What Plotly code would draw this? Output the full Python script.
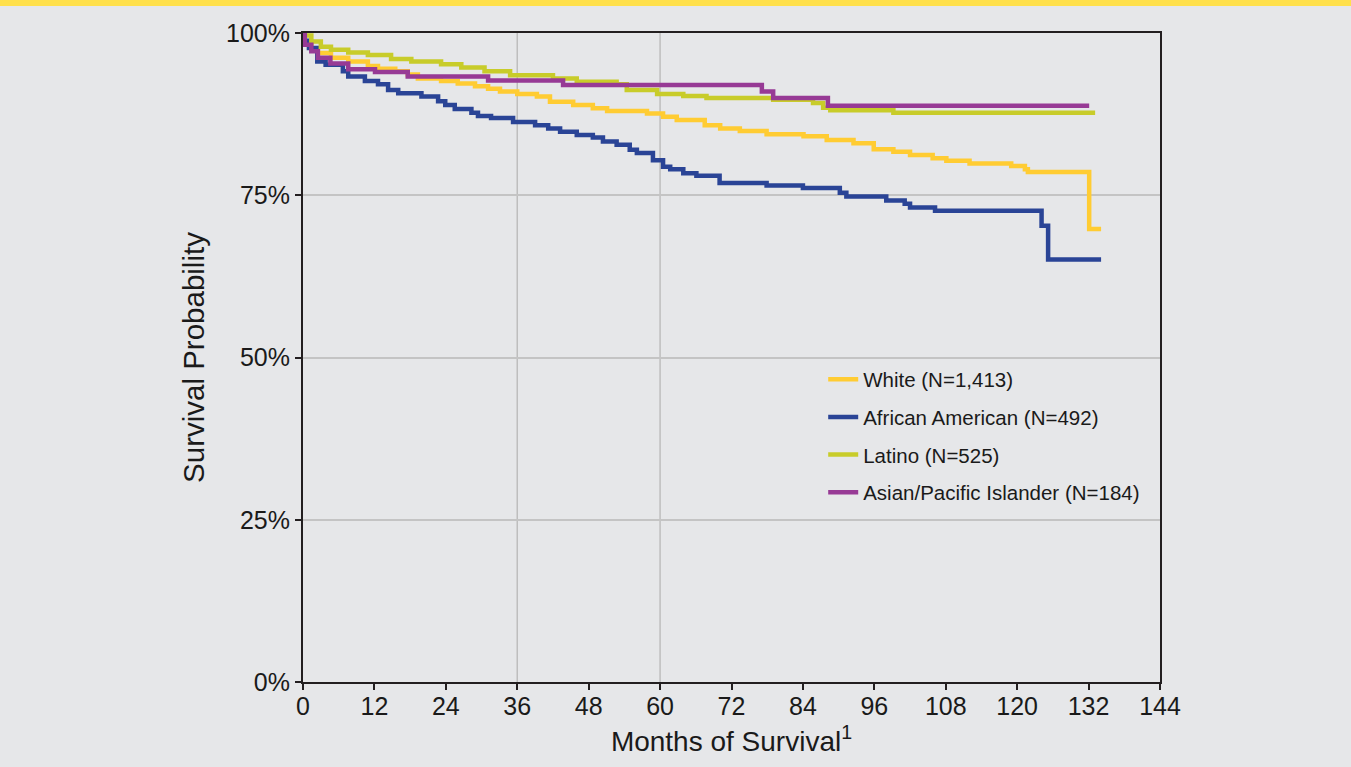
import plotly.graph_objects as go

# Kaplan-Meier step data: month at which each survival level starts, and the level (%)
white_months = [0, 0.3, 1.4, 2.5, 4.7, 7.6, 10.9, 12.6, 15.5, 17.6, 19.3, 23.2, 26.0, 28.9,
                31.1, 33.1, 36.0, 39.3, 41.5, 45.4, 48.7, 51.1, 57.8, 60.5, 62.8, 67.5,
                70.1, 73.4, 77.9, 84.1, 88.0, 92.5, 95.9, 99.2, 102.0, 105.8, 108.1, 112.0,
                119.0, 121.3, 121.8, 132.1, 134.1]
white_surv = [100, 98.6, 97.5, 96.9, 96.2, 95.6, 94.9, 94.5, 94.1, 93.6, 93.0, 92.6, 92.2, 91.8,
              91.4, 91.0, 90.6, 90.2, 89.4, 88.9, 88.4, 88.0, 87.6, 87.1, 86.6, 85.8,
              85.3, 84.9, 84.4, 84.1, 83.5, 83.0, 82.1, 81.7, 81.2, 80.7, 80.3, 79.9,
              79.5, 79.0, 78.6, 69.8, 69.8]

black_months = [0, 0.3, 1.0, 2.4, 3.8, 6.7, 7.6, 10.4, 12.6, 14.3, 16.0, 19.9, 22.7, 23.9,
                25.5, 28.3, 29.4, 31.6, 35.3, 39.0, 41.2, 43.2, 46.0, 48.7, 50.4, 52.7,
                54.9, 56.1, 58.8, 60.5, 61.7, 63.9, 66.1, 70.0, 77.9, 84.0, 90.2, 91.3,
                98.0, 101.1, 102.0, 106.2, 124.1, 125.2, 134.1]
black_surv = [100, 98.8, 97.7, 95.6, 95.1, 94.1, 93.3, 92.6, 92.1, 91.2, 90.7, 90.2, 89.5, 88.9,
              88.3, 87.7, 87.2, 86.9, 86.3, 85.8, 85.3, 84.8, 84.3, 83.9, 83.3, 82.8,
              82.0, 81.5, 80.4, 79.4, 79.0, 78.4, 78.0, 76.9, 76.5, 76.1, 75.4, 74.8,
              74.2, 73.7, 73.1, 72.6, 70.3, 65.1, 65.1]

latino_months = [0, 0.3, 1.4, 3.0, 4.7, 7.6, 10.9, 14.8, 18.2, 23.2, 26.6, 30.5, 34.8, 42.0,
                 46.0, 52.7, 54.4, 59.5, 63.9, 67.8, 79.0, 85.7, 87.4, 88.6, 99.2, 133.1]
latino_surv = [100, 99.6, 98.7, 97.9, 97.4, 97.0, 96.6, 96.0, 95.6, 95.2, 94.7, 94.1, 93.5, 93.0,
               92.5, 92.1, 91.2, 90.6, 90.3, 90.0, 89.7, 89.2, 88.5, 88.1, 87.7, 87.7]

asian_months = [0, 0.3, 1.4, 2.5, 4.6, 7.6, 12.1, 17.6, 31.1, 43.7, 77.1, 79.0, 88.2, 132.1]
asian_surv = [100, 98.2, 97.2, 96.2, 95.3, 94.4, 94.0, 93.3, 92.7, 92.0, 91.0, 90.0, 88.8, 88.8]

series_names = ["White (N=1,413)", "African American (N=492)", "Latino (N=525)",
                "Asian/Pacific Islander (N=184)"]
series_colors = ["#FFCC33", "#2A4496", "#C8CC2A", "#973A95"]
series_months = [white_months, black_months, latino_months, asian_months]
series_surv = [white_surv, black_surv, latino_surv, asian_surv]

x_ticks = list(range(0, 145, 12))
y_ticks = [0, 25, 50, 75, 100]
y_tick_text = ["0%", "25%", "50%", "75%", "100%"]
ref_months = [36, 60]

FONT = "Liberation Sans, Arial, Helvetica, sans-serif"
BG = "#E6E7E9"
INK = "#1A1A1A"

fig = go.Figure()
for name, color, months, surv in zip(series_names, series_colors, series_months, series_surv):
    fig.add_trace(go.Scatter(
        x=months, y=surv, mode="lines", name=name, legendgroup=name,
        line=dict(color=color, width=4.5, shape="hv"),
    ))

shapes = [
    dict(type="line", xref="x", yref="paper", x0=m, x1=m, y0=0, y1=1,
         line=dict(color="#BEBEBE", width=1.5), layer="below")
    for m in ref_months
]
# yellow banner strip along the top edge of the page
shapes.append(dict(type="rect", xref="paper", yref="paper", x0=-0.5, x1=1.5,
                   y0=(682 - 6) / 649, y1=1.2, fillcolor="#FFE04B", line=dict(width=0),
                   layer="above"))

fig.update_layout(
    width=1351, height=767, autosize=False,
    margin=dict(l=303, r=191, t=33, b=85),
    paper_bgcolor=BG, plot_bgcolor=BG,
    font=dict(family=FONT, color=INK),
    shapes=shapes,
    showlegend=True,
    legend=dict(
        x=0.607, y=0.497, xanchor="left", yanchor="top",
        bgcolor="rgba(0,0,0,0)", borderwidth=0,
        font=dict(family=FONT, size=20.5, color=INK),
        itemwidth=30, traceorder="grouped", tracegroupgap=8,
    ),
    xaxis=dict(
        range=[0, 144], tickvals=x_ticks, ticktext=[str(t) for t in x_ticks],
        showgrid=False, zeroline=False,
        showline=True, linecolor="#231F20", linewidth=2, mirror=True,
        ticks="outside", ticklen=6, tickwidth=2, tickcolor="#231F20",
        ticklabelstandoff=-5,
        tickfont=dict(family=FONT, size=25, color=INK),
        title=dict(text="Months of Survival<sup>1</sup>", standoff=12,
                   font=dict(family=FONT, size=28, color=INK)),
    ),
    yaxis=dict(
        range=[0, 100], tickvals=y_ticks, ticktext=y_tick_text,
        showgrid=True, gridcolor="#C4C4C4", gridwidth=1.5, zeroline=False,
        showline=True, linecolor="#231F20", linewidth=2, mirror=True,
        ticks="outside", ticklen=6, tickwidth=2, tickcolor="#231F20",
        tickfont=dict(family=FONT, size=25, color=INK),
        title=dict(text="Survival Probability", standoff=13,
                   font=dict(family=FONT, size=29.5, color=INK)),
    ),
)

fig.write_html("out.html")
